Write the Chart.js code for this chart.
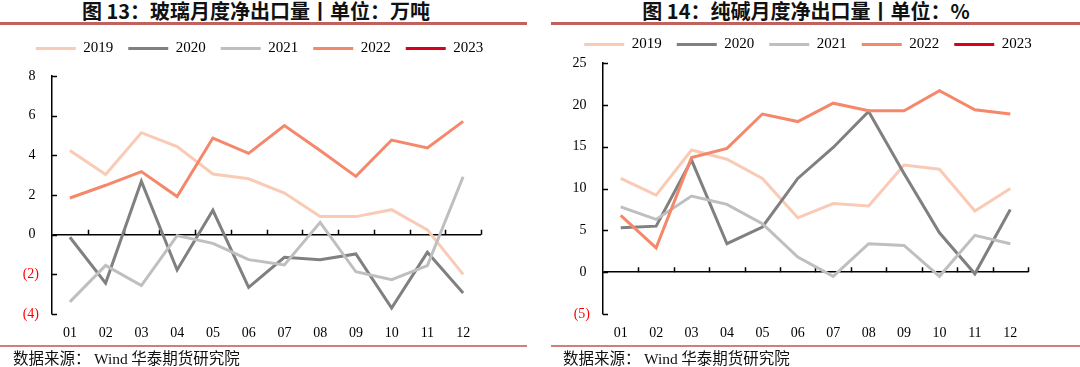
<!DOCTYPE html>
<html>
<head>
<meta charset="utf-8">
<script src="https://cdn.jsdelivr.net/npm/chart.js@4.4.0/dist/chart.umd.min.js"></script>
<style>
  body { margin:0; width:1080px; height:367px; background:#fff; position:relative; overflow:hidden;
         font-family:"Noto Sans CJK SC", sans-serif; }
  .title { position:absolute; top:0; height:22px; line-height:21px; font-size:20px; font-weight:bold;
           color:#111; text-align:center; white-space:nowrap; }
  .rule-top { position:absolute; top:22px; height:3px; background:#c0615e; }
  .rule-bot { position:absolute; top:345px; height:2px; background:#d27c7c; }
  .src { position:absolute; top:347px; font-size:15.5px; line-height:21px; color:#111; white-space:nowrap; }
  .src .en { font-family:"Liberation Serif", serif; }
  .box { position:absolute; }
</style>
</head>
<body>

<div class="title" style="left:0;width:512px;">图 13：玻璃月度净出口量丨单位：万吨</div>
<div class="rule-top" style="left:0;width:527px;"></div>
<div class="title" style="left:551px;width:510px;">图 14：纯碱月度净出口量丨单位：%</div>
<div class="rule-top" style="left:551px;width:529px;"></div>

<div class="box" style="left:0;top:24px;width:510px;height:322px;"><canvas id="chart-glass"></canvas></div>
<div class="box" style="left:540px;top:20px;width:540px;height:326px;"><canvas id="chart-soda"></canvas></div>

<div class="rule-bot" style="left:0;width:527px;"></div>
<div class="rule-bot" style="left:551px;width:529px;"></div>
<div class="src" style="left:13px;">数据来源：&nbsp;<span class="en">Wind</span> 华泰期货研究院</div>
<div class="src" style="left:563px;">数据来源：&nbsp;<span class="en">Wind</span> 华泰期货研究院</div>

<script>
/* ── 데이터 ── */
const months = ['01','02','03','04','05','06','07','08','09','10','11','12'];
const years  = ['2019','2020','2021','2022','2023'];
const colors = ['#f9cbb6','#808080','#bfbfbf','#f5886a','#d9001b'];

// 图13 玻璃 (万吨)
const glass2019 = [4.24, 3.03, 5.14, 4.44, 3.06, 2.82, 2.10, 0.91, 0.91, 1.26, 0.24, -2.00];
const glass2020 = [-0.13, -2.44, 2.69, -1.78, 1.23, -2.66, -1.14, -1.26, -0.97, -3.70, -0.89, -2.94];
const glass2021 = [-3.39, -1.55, -2.57, -0.05, -0.44, -1.26, -1.53, 0.62, -1.87, -2.27, -1.56, 2.92];
const glass2022 = [1.85, 2.49, 3.18, 1.92, 4.87, 4.10, 5.50, 4.24, 2.94, 4.77, 4.37, 5.71];
const glass2023 = [];
const glassTicks = { min: -4, max: 8, step: 2 };

// 图14 纯碱 (%)
const soda2019 = [11.2, 9.2, 14.6, 13.5, 11.2, 6.5, 8.2, 7.9, 12.8, 12.3, 7.3, 10.0];
const soda2020 = [5.3, 5.5, 13.4, 3.4, 5.4, 11.2, 14.9, 19.2, 11.8, 4.7, -0.2, 7.5];
const soda2021 = [7.8, 6.3, 9.1, 8.1, 5.8, 1.8, -0.5, 3.4, 3.2, -0.5, 4.4, 3.4];
const soda2022 = [6.8, 2.9, 13.7, 14.8, 18.9, 18.0, 20.2, 19.3, 19.3, 21.7, 19.4, 18.9];
const soda2023 = [];
const sodaTicks = { min: -5, max: 25, step: 5 };

/* ── 공통 설정 ── */
const serif = "'Liberation Serif', 'Times New Roman', serif";

// y축 안쪽 눈금, x축(0선) 위쪽 눈금
const axisMarks = {
  id: 'axisMarks',
  beforeDatasetsDraw(chart) {
    const { ctx, chartArea, scales: { x, y } } = chart;
    ctx.save();
    ctx.strokeStyle = '#000';
    ctx.lineWidth = 1.5;
    ctx.beginPath();
    y.ticks.forEach((t, i) => {
      const py = Math.round(y.getPixelForTick(i)) + 0.5;
      ctx.moveTo(chartArea.left, py);
      ctx.lineTo(chartArea.left + 5, py);
    });
    const y0 = y.getPixelForValue(0);
    const half = (x.getPixelForValue(1) - x.getPixelForValue(0)) / 2;
    months.forEach((m, i) => {
      const px = Math.round(x.getPixelForValue(i) + half) + 0.5;
      ctx.moveTo(px, y0);
      ctx.lineTo(px, y0 - 5);
    });
    ctx.stroke();
    ctx.restore();
  }
};

// 범례 높이 고정 + 위치 보정
function legendBox(h, dx, dy) {
  return {
    id: 'legendBox',
    beforeInit(chart) {
      const fit = chart.legend.fit;
      chart.legend.fit = function () { fit.call(this); this.height = h; };
    },
    afterLayout(chart) {
      const lg = chart.legend;
      lg.left += dx; lg.right += dx;
      lg.top += dy; lg.bottom += dy;
    }
  };
}

function makeChart(id, series, tk, opt) {
  const ctx = document.getElementById(id).getContext('2d');
  const datasets = years.map((yr, i) => ({
    label: yr,
    data: series[i],
    borderColor: colors[i],
    backgroundColor: colors[i],
    borderWidth: 3,
    pointRadius: 0,
    tension: 0,
    fill: false,
    order: years.length - i
  }));

  return new Chart(ctx, {
    type: 'line',
    data: { labels: months, datasets },
    options: {
      responsive: true,
      maintainAspectRatio: false,
      animation: false,
      layout: { padding: { left: 0, right: opt.right, top: 0, bottom: 0 } },
      plugins: {
        tooltip: { enabled: false },
        legend: {
          display: true,
          position: 'top',
          labels: {
            color: '#000',
            font: { family: serif, size: 15 },
            boxWidth: 40,
            boxHeight: 3,
            padding: 15,
            generateLabels: chart => chart.data.datasets.map((d, i) => ({
              text: d.label, fillStyle: d.borderColor, strokeStyle: d.borderColor,
              lineWidth: 0, hidden: false, datasetIndex: i, fontColor: '#000'
            }))
          }
        }
      },
      scales: {
        x: {
          offset: true,
          grid: { display: false, drawTicks: false },
          border: { display: false },
          ticks: { color: '#000', font: { family: serif, size: 14 }, padding: 11, maxRotation: 0, autoSkip: false },
          afterFit: s => { s.height = 32; }
        },
        y: {
          min: tk.min, max: tk.max,
          border: { display: true, color: '#000', width: 1.5 },
          grid: {
            drawTicks: false,
            lineWidth: 1.5,
            color: c => c.tick && c.tick.value === 0 ? '#000' : 'rgba(0,0,0,0)'
          },
          ticks: {
            stepSize: tk.step,
            padding: 13,
            font: { family: serif, size: 14 },
            color: c => c.tick.value < 0 ? '#ff0000' : '#000',
            callback: v => v < 0 ? '(' + Math.abs(v) + ')' : v + ' '
          },
          afterFit: s => { s.width = opt.yWidth; }
        }
      }
    },
    plugins: [axisMarks, legendBox(opt.legendH, opt.dx, opt.dy)]
  });
}

makeChart('chart-glass', [glass2019, glass2020, glass2021, glass2022, glass2023], glassTicks,
  { right: 29, yWidth: 52, legendH: 52, dx: 19, dy: 2 });
makeChart('chart-soda', [soda2019, soda2020, soda2021, soda2022, soda2023], sodaTicks,
  { right: 52, yWidth: 63, legendH: 43, dx: 24, dy: 2 });
</script>
</body>
</html>
